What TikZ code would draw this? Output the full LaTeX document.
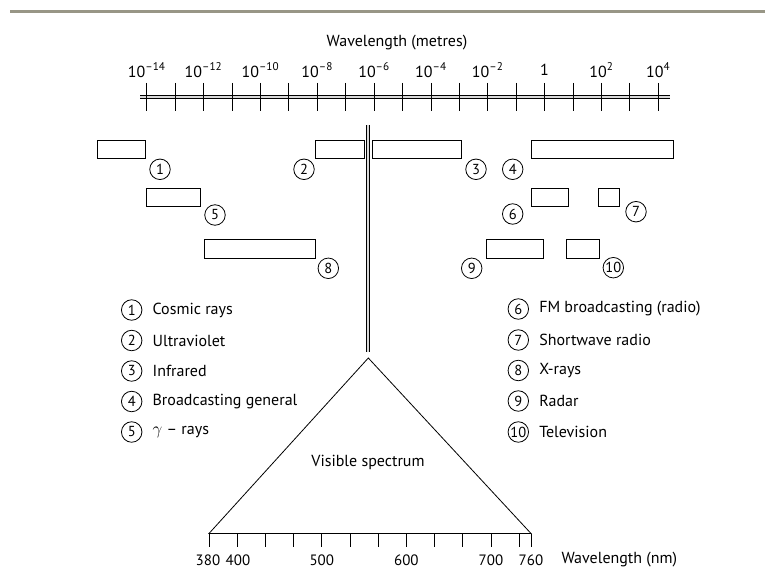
\documentclass[tikz,border=0pt]{standalone}
\usepackage{fontspec}
\setmainfont{PT Sans}
\usepackage{tikz}
\usetikzlibrary{positioning}
\definecolor{rulegrey}{RGB}{152,150,134}

\begin{document}
\begin{tikzpicture}[x=1pt,y=-1pt,semithick,font=\fontsize{16}{18}\selectfont]
    \tikzstyle{band}=[draw, thick]
    \tikzstyle{num}=[circle, draw, thick, minimum size=20.5pt, inner sep=0pt, font=\fontsize{14.5}{14.5}\selectfont]
    \tikzstyle{item}=[right=9pt of #1, inner sep=1pt]
    \tikzstyle{axis}=[draw, thick, double=gray!30, double distance=2.2pt]
    \tikzstyle{nmlabel}=[font=\fontsize{15}{15}\selectfont]
    \useasboundingbox (0,0) rectangle (765,569);
    \fill[rulegrey] (10,10) rectangle (765,13.5);
    \node (title) at (397,43) {Wavelength (metres)};
    \draw[axis] (140,97) -- (670,97);
    \foreach \k in {0,...,18}
        \draw[thick] (146.7+28.42*\k,83) -- (146.7+28.42*\k,111);
    \node (e14) at (146.7,70) {10\textsuperscript{--14}};
    \node (e12) at (203.5,70) {10\textsuperscript{--12}};
    \node (e10) at (260.4,70) {10\textsuperscript{--10}};
    \node (e8) at (317.2,70) {10\textsuperscript{--8}};
    \node (e6) at (374.0,70) {10\textsuperscript{--6}};
    \node (e4) at (430.9,70) {10\textsuperscript{--4}};
    \node (e2) at (487.7,70) {10\textsuperscript{--2}};
    \node (e0) at (544.6,70) {1};
    \node (p2) at (601.4,70) {10\textsuperscript{2}};
    \node (p4) at (658.2,70) {10\textsuperscript{4}};
    \draw[axis] (368.3,125) -- (368.3,352);
    \draw[band] (97.3,140) rectangle (145.7,158.5);
    \draw[band] (315.7,140) rectangle (364,158.5);
    \draw[band] (372.3,140) rectangle (461.7,158.5);
    \draw[band] (531,140) rectangle (673.3,158.5);
    \draw[band] (146.7,188) rectangle (200.7,206.5);
    \draw[band] (531,188) rectangle (568.3,206.5);
    \draw[band] (598.3,188) rectangle (619.3,206.5);
    \draw[band] (204,239.5) rectangle (315,258);
    \draw[band] (486,239.5) rectangle (543.3,258);
    \draw[band] (566.7,239.5) rectangle (599,258);
    \node[num] (c1) at (160,169.3) {1};
    \node[num] (c2) at (304,169.3) {2};
    \node[num] (c3) at (476,169.3) {3};
    \node[num] (c4) at (512.7,169.3) {4};
    \node[num] (c5) at (215,215) {5};
    \node[num] (c6) at (512.7,214) {6};
    \node[num] (c7) at (636,211.7) {7};
    \node[num] (c8) at (328.3,268.3) {8};
    \node[num] (c9) at (471.7,268.3) {9};
    \node[num] (c10) at (613.3,267.7) {10};
    \node[num] (l1) at (131.7,310) {1};
    \node[num] (l2) at (131.7,340.5) {2};
    \node[num] (l3) at (131.7,371) {3};
    \node[num] (l4) at (131.7,401.5) {4};
    \node[num] (l5) at (131.7,432) {5};
    \node[item=l1] {Cosmic rays};
    \node[item=l2] {Ultraviolet};
    \node[item=l3] {Infrared};
    \node[item=l4] {Broadcasting general};
    \node[item=l5] {$\gamma$ -- rays};
    \node[num] (l6) at (518.3,309) {6};
    \node[num] (l7) at (518.3,340) {7};
    \node[num] (l8) at (518.3,370.5) {8};
    \node[num] (l9) at (518.3,401) {9};
    \node[num] (l10) at (518.3,432) {10};
    \node[item=l6] {FM broadcasting (radio)};
    \node[item=l7] {Shortwave radio};
    \node[item=l8] {X-rays};
    \node[item=l9] {Radar};
    \node[item=l10] {Television};
    \coordinate (apex) at (368.3,358);
    \coordinate (v380) at (209,533.5);
    \coordinate (v760) at (531,533.5);
    \draw[thick] (v380) -- (apex) -- (v760) -- cycle;
    \node (vis) at (368,462) {Visible spectrum};
    \foreach \k in {0,...,11}
        \draw[thick] (209+28.2*\k,533.5) -- (209+28.2*\k,547);
    \draw[thick] (v760) -- (531,547);
    \node[nmlabel] (n380) at (208,560) {380};
    \node[nmlabel] (n400) at (238,560) {400};
    \node[nmlabel] (n500) at (321.8,560) {500};
    \node[nmlabel] (n600) at (406.4,560) {600};
    \node[nmlabel] (n700) at (491,560) {700};
    \node[nmlabel] (n760) at (531,560) {760};
    \node[anchor=west] (nm) at (558,560) {Wavelength (nm)};
\end{tikzpicture}
\end{document}
